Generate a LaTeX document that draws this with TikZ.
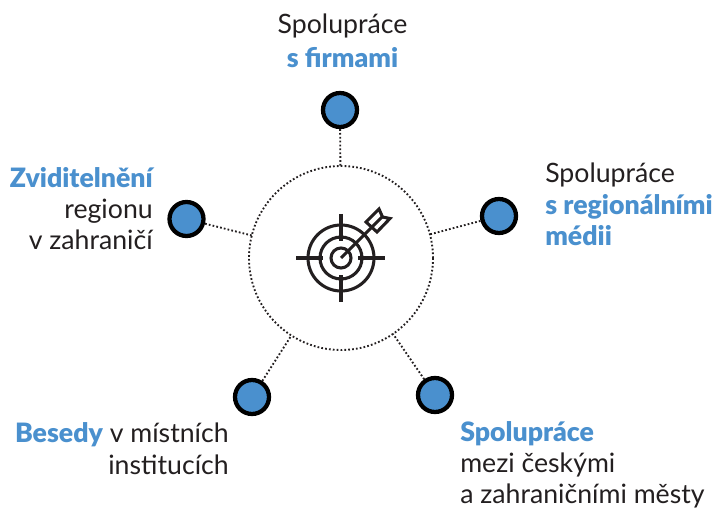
\documentclass[tikz,border=0pt]{standalone}
\usepackage{fontspec}
\setmainfont{Lato}[BoldFont={Lato Black}]
\definecolor{bluefill}{HTML}{4A90CE}
\definecolor{ink}{HTML}{231F20}
\tikzset{
  x=0.75pt,y=-0.75pt,
  dot/.style={circle,draw=black,fill=bluefill,line width=3.2pt,minimum size=25.5pt,inner sep=0pt,outer sep=1.6pt},
  hub/.style={circle,draw=ink,line width=1.4pt,dash pattern=on 1.3pt off 1.6pt,minimum size=138pt,inner sep=0pt,outer sep=0pt},
  link/.style={draw=ink,line width=1.4pt,dash pattern=on 1.3pt off 1.6pt},
  lbl/.style={font=\fontsize{20pt}{23.5pt}\selectfont,text=ink,inner sep=0pt,align=center},
  icon/.style={draw=ink,line width=2.3pt},
}
\newcommand{\hl}[1]{{\bfseries\color{bluefill}#1}}
\begin{document}
\begin{tikzpicture}
\useasboundingbox (0,0) rectangle (716,509);
\node[hub] (hub) at (341,258) {};
\node[dot] (top) at (340,110) {};
\node[dot] (left) at (186.5,219) {};
\node[dot] (right) at (499,216) {};
\node[dot] (bl) at (252,397) {};
\node[dot] (br) at (435,395) {};
\draw[link] (top) -- (hub);
\draw[link] (left) -- (hub);
\draw[link] (right) -- (hub);
\draw[link] (bl) -- (hub);
\draw[link] (br) -- (hub);
\node[lbl,anchor=north] (t1) at (342.5,14) {Spolupráce\\[1.5pt]\hl{s firmami}};
\node[lbl,anchor=north east,align=right] (t2) at (153,167) {\hl{Zviditelnění}\\regionu\\v zahraničí};
\node[lbl,anchor=north west,align=left] (t3) at (545,163) {Spolupráce\\\hl{s regionálními}\\\hl{médii}};
\node[lbl,anchor=north east,align=right] (t4) at (229,422.5) {\hl{Besedy} v místních\\institucích};
\node[lbl,anchor=north west,align=left] (t5) at (460,421) {\hl{Spolupráce}\\mezi českými\\a zahraničními městy};
% target icon
\draw[icon] (341,258) circle (10);
\draw[icon] (341,258) circle (21);
\draw[icon] (341,258) circle (33);
\draw[icon] (341,214) -- (341,241);
\draw[icon] (341,275) -- (341,302);
\draw[icon] (296,258) -- (323,258);
\draw[icon] (358,258) -- (385,258);
\draw[icon] (341,258) -- (383,216);
\draw[icon,line join=miter] (366,222) -- (379,209) -- (382.5,217) -- (390,218.5) -- (377,232) -- cycle;
\end{tikzpicture}
\end{document}
